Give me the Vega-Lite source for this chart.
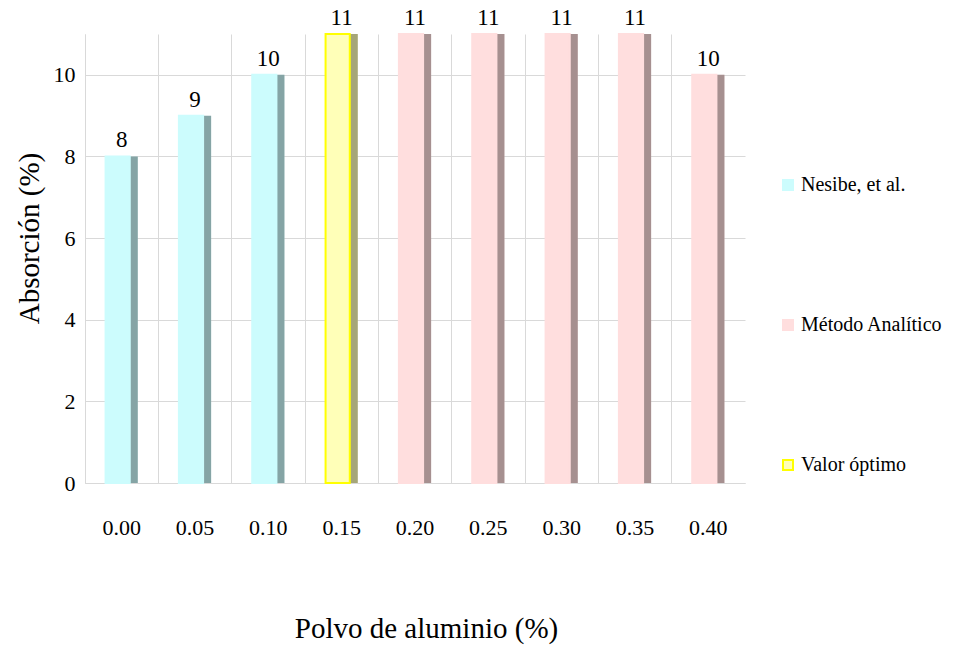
{
  "$schema": "https://vega.github.io/schema/vega-lite/v6.json",
  "autosize": "none",
  "width": 660,
  "height": 449,
  "padding": {"left": 85, "top": 34, "right": 208, "bottom": 169},
  "background": "white",
  "config": {
    "font": "Liberation Serif",
    "view": {"stroke": null}
  },
  "data": {
    "values": [
      {"polvo": "0.00", "absorcion": 8, "serie": "Nesibe, et al."},
      {"polvo": "0.05", "absorcion": 9, "serie": "Nesibe, et al."},
      {"polvo": "0.10", "absorcion": 10, "serie": "Nesibe, et al."},
      {"polvo": "0.15", "absorcion": 11, "serie": "Valor óptimo"},
      {"polvo": "0.20", "absorcion": 11, "serie": "Método Analítico"},
      {"polvo": "0.25", "absorcion": 11, "serie": "Método Analítico"},
      {"polvo": "0.30", "absorcion": 11, "serie": "Método Analítico"},
      {"polvo": "0.35", "absorcion": 11, "serie": "Método Analítico"},
      {"polvo": "0.40", "absorcion": 10, "serie": "Método Analítico"}
    ]
  },
  "encoding": {
    "x": {
      "field": "polvo",
      "type": "ordinal",
      "sort": null,
      "scale": {"paddingInner": 0, "paddingOuter": 0},
      "axis": {
        "title": "Polvo de aluminio (%)",
        "titleFontSize": 29,
        "titleFontWeight": "normal",
        "titleColor": "#000000",
        "titlePadding": 76,
        "titleX": 341,
        "labelFontSize": 22,
        "labelColor": "#000000",
        "labelAngle": 0,
        "labelPadding": 34,
        "ticks": false,
        "domainColor": "#D9D9D9",
        "grid": true,
        "gridColor": "#D9D9D9",
        "bandPosition": 0
      }
    },
    "y": {
      "field": "absorcion",
      "type": "quantitative",
      "scale": {"domain": [0, 11], "nice": false},
      "axis": {
        "title": "Absorción (%)",
        "titleFontSize": 29,
        "titleFontWeight": "normal",
        "titleColor": "#000000",
        "titlePadding": 9,
        "titleY": 204,
        "labelFontSize": 22,
        "labelColor": "#000000",
        "labelPadding": 10,
        "values": [0, 2, 4, 6, 8, 10],
        "ticks": false,
        "domainColor": "#D9D9D9",
        "grid": true,
        "gridColor": "#D9D9D9"
      }
    }
  },
  "layer": [
    {
      "mark": {"type": "bar", "width": {"band": 0.44}},
      "encoding": {
        "color": {
          "field": "serie",
          "type": "nominal",
          "scale": {
            "domain": ["Nesibe, et al.", "Método Analítico", "Valor óptimo"],
            "range": ["#CCFCFD", "#FFDEDE", "#FFFFB8"]
          },
          "legend": {
            "title": null,
            "orient": "none",
            "legendX": 693,
            "legendY": 141,
            "symbolType": "square",
            "symbolSize": 100,
            "symbolStrokeWidth": 2,
            "labelFontSize": 20,
            "labelColor": "#000000",
            "labelOffset": 3,
            "rowPadding": 120
          }
        }
      }
    },
    {
      "mark": {"type": "bar", "width": {"band": 0.44}, "color": "#000000", "opacity": 0.35}
    },
    {
      "mark": {"type": "bar", "width": {"band": 0.33}, "xOffset": -4, "strokeWidth": 2},
      "encoding": {
        "color": {"field": "serie", "type": "nominal"},
        "stroke": {
          "field": "serie",
          "type": "nominal",
          "scale": {
            "domain": ["Nesibe, et al.", "Método Analítico", "Valor óptimo"],
            "range": ["#CCFCFD", "#FFDEDE", "#FFFF00"]
          },
          "legend": {
            "title": null,
            "orient": "none",
            "legendX": 693,
            "legendY": 141,
            "symbolType": "square",
            "symbolSize": 100,
            "symbolStrokeWidth": 2,
            "labelFontSize": 20,
            "labelColor": "#000000",
            "labelOffset": 3,
            "rowPadding": 120
          }
        }
      }
    },
    {
      "mark": {"type": "text", "dy": -16, "fontSize": 23, "color": "#000000"},
      "encoding": {
        "text": {"field": "absorcion", "type": "quantitative", "format": ".0f"}
      }
    }
  ]
}
